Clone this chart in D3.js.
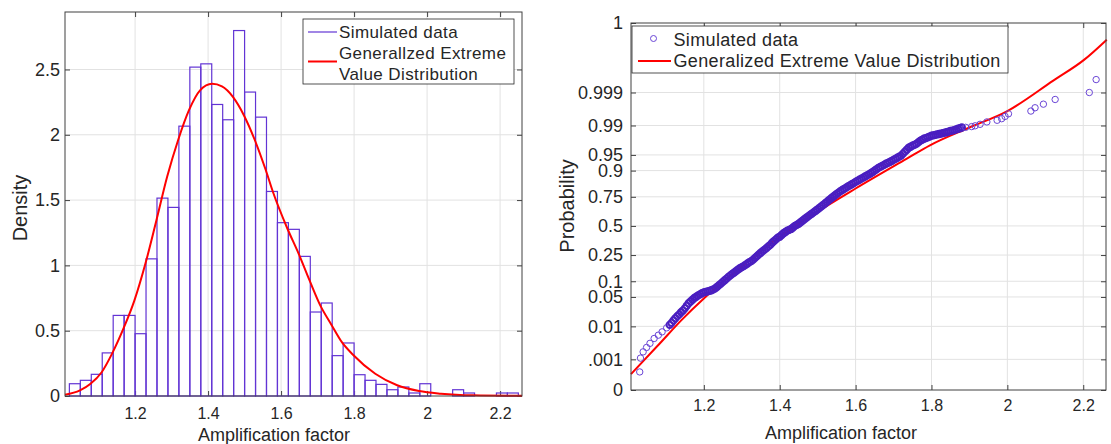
<!DOCTYPE html>
<html>
<head>
<meta charset="utf-8">
<script src="https://cdn.jsdelivr.net/npm/d3@7"></script>
<style>
body { margin: 0; background: #fff; }
svg text { font-family: Arial, "Liberation Sans", Helvetica, sans-serif; fill: #262626; }
</style>
</head>
<body>
<svg width="1111" height="444"></svg>
<script>
// ---- left panel: histogram + fitted pdf ----
const binEdges = [1.02, 1.05, 1.08, 1.11, 1.14, 1.17, 1.20, 1.23, 1.26, 1.29, 1.32, 1.35, 1.38, 1.41,
    1.44, 1.47, 1.50, 1.53, 1.56, 1.59, 1.62, 1.65, 1.68, 1.71, 1.74, 1.77, 1.80, 1.83, 1.86, 1.89,
    1.92, 1.95, 1.98, 2.01, 2.04, 2.07, 2.10, 2.13, 2.16, 2.19, 2.22, 2.25];
const histDensity = [0.094, 0.12, 0.166, 0.33, 0.617, 0.617, 0.477, 1.05, 1.515, 1.444, 2.066, 2.518,
    2.543, 2.232, 2.115, 2.798, 2.327, 2.135, 1.566, 1.327, 1.276, 1.069, 0.643, 0.712, 0.309, 0.406,
    0.163, 0.12, 0.089, 0.048, 0.069, 0.023, 0.094, 0, 0, 0.048, 0.023, 0, 0, 0.023, 0.023];
const gevPdfX = [1.008, 1.049, 1.078, 1.108, 1.138, 1.168, 1.198, 1.228, 1.258, 1.288, 1.318, 1.348,
    1.378, 1.411, 1.438, 1.468, 1.498, 1.528, 1.558, 1.578, 1.616, 1.648, 1.678, 1.708, 1.737, 1.767,
    1.797, 1.858, 1.918, 1.978, 2.038, 2.126, 2.26];
const gevPdfY = [0.01, 0.043, 0.094, 0.18, 0.33, 0.515, 0.73, 1.01, 1.34, 1.68, 1.96, 2.19,
    2.34, 2.39, 2.37, 2.29, 2.15, 1.96, 1.73, 1.56, 1.29, 1.09, 0.885, 0.69, 0.55, 0.41,
    0.316, 0.17, 0.082, 0.038, 0.018, 0.005, 0.001];
const xTicks = [1.2, 1.4, 1.6, 1.8, 2, 2.2];
const densityTicks = [0, 0.5, 1, 1.5, 2, 2.5];

// ---- right panel: probability plot ----
const simX = [1.031, 1.033, 1.040, 1.049, 1.058, 1.069, 1.080, 1.090, 1.102, 1.110, 1.115, 1.120,
    1.125, 1.130, 1.135, 1.140, 1.145, 1.150, 1.155, 1.160, 1.165, 1.170, 1.175, 1.180, 1.185, 1.190,
    1.195, 1.200, 1.205, 1.210, 1.215, 1.220, 1.225, 1.230, 1.235, 1.240, 1.245, 1.250, 1.255, 1.260,
    1.265, 1.270, 1.275, 1.280, 1.285, 1.290, 1.295, 1.300, 1.305, 1.310, 1.315, 1.320, 1.325, 1.330,
    1.335, 1.340, 1.345, 1.350, 1.355, 1.360, 1.365, 1.370, 1.375, 1.380, 1.385, 1.390, 1.395, 1.400,
    1.405, 1.410, 1.415,
    1.420, 1.425, 1.430, 1.435, 1.440, 1.445, 1.450, 1.455, 1.460, 1.465,
    1.470, 1.475, 1.480, 1.485, 1.490, 1.495, 1.500, 1.505, 1.510, 1.515,
    1.520, 1.525, 1.530, 1.535, 1.540, 1.545, 1.550, 1.555, 1.560, 1.565,
    1.570, 1.575, 1.580, 1.585, 1.590, 1.595, 1.600, 1.605, 1.610, 1.615,
    1.620, 1.625, 1.630, 1.635, 1.640, 1.645, 1.650, 1.655, 1.660, 1.665,
    1.670, 1.675, 1.680, 1.685, 1.690, 1.695, 1.700, 1.705, 1.710, 1.715,
    1.720, 1.725, 1.730, 1.735, 1.740, 1.745, 1.750, 1.755, 1.760, 1.765,
    1.770, 1.775, 1.780, 1.785, 1.790, 1.795, 1.800, 1.805, 1.810, 1.815,
    1.820, 1.825, 1.830, 1.835, 1.840, 1.845, 1.850, 1.855, 1.860, 1.865,
    1.870, 1.875, 1.880, 1.890,
    1.906, 1.915, 1.928, 1.946, 1.973, 1.985, 1.994, 2.003, 2.062, 2.073, 2.095, 2.126, 2.216, 2.234];
const simP = [0.00036, 0.0011, 0.00177, 0.00244, 0.00327, 0.00457, 0.0057, 0.00707, 0.00914, 0.011,
    0.0124, 0.0143, 0.0162, 0.0183, 0.0202, 0.0228, 0.025, 0.0281, 0.0322, 0.0367, 0.0401, 0.0436,
    0.0475, 0.0505, 0.0537, 0.0565, 0.0594, 0.0618, 0.0636, 0.0649, 0.0662, 0.0681, 0.0708, 0.0742,
    0.0793, 0.0853, 0.0909, 0.0977, 0.1044, 0.1112, 0.119, 0.1261, 0.1335, 0.1401, 0.148, 0.1562,
    0.1635, 0.1698, 0.1762, 0.1841, 0.1922, 0.2005, 0.2075, 0.2177, 0.2297, 0.242, 0.2546, 0.2676,
    0.2793, 0.2912, 0.3033, 0.3174, 0.33, 0.3483, 0.3632, 0.3783, 0.3936, 0.4013, 0.4168, 0.4325,
    0.4443,
    0.4562, 0.4641, 0.4721, 0.4860, 0.5000, 0.5100, 0.5199, 0.5339, 0.5478, 0.5616,
    0.5753, 0.5878, 0.6006, 0.6129, 0.6255, 0.6376, 0.6499, 0.6628, 0.6754, 0.6879,
    0.7002, 0.7130, 0.7257, 0.7373, 0.7486, 0.7596, 0.7703, 0.7800, 0.7896, 0.7973,
    0.8051, 0.8125, 0.8199, 0.8264, 0.8327, 0.8394, 0.8461, 0.8520, 0.8577, 0.8632,
    0.8686, 0.8739, 0.8790, 0.8840, 0.8888, 0.8944, 0.8997, 0.9052, 0.9107, 0.9142,
    0.9177, 0.9215, 0.9251, 0.9279, 0.9306, 0.9338, 0.9370, 0.9400, 0.9429, 0.9457,
    0.9484, 0.9530, 0.9573, 0.9612, 0.9649, 0.9667, 0.9686, 0.9699, 0.9713, 0.9735,
    0.9756, 0.9770, 0.9783, 0.9791, 0.9798, 0.9808, 0.9817, 0.9821, 0.9826, 0.9830,
    0.9834, 0.9838, 0.9842, 0.9846, 0.9850, 0.9856, 0.9861, 0.9864, 0.9868, 0.9873,
    0.9878, 0.9882, 0.9887, 0.9888,
    0.9893, 0.9898, 0.9907, 0.992, 0.9928, 0.9935, 0.9944, 0.9953, 0.9961, 0.9969, 0.9976,
    0.9983, 0.999, 0.99965];
const gevCdfX = [1.008, 1.08, 1.141, 1.2, 1.299, 1.4, 1.48, 1.6, 1.734, 1.796, 1.9, 2.0, 2.121, 2.202, 2.262];
const gevCdfP = [0.0003, 0.0029, 0.0146, 0.0465, 0.171, 0.40, 0.587, 0.807, 0.9398, 0.9691, 0.9887,
    0.9961, 0.99962, 0.99994, 0.999992];
// first and last are the axis limits, labelled 0 and 1
const probTicks = [0.0000723, 0.001, 0.01, 0.05, 0.1, 0.25, 0.5, 0.75, 0.9, 0.95, 0.99, 0.999, 0.9999987];
const probTickLabels = ["0", ".001", "0.01", "0.05", "0.1", "0.25", "0.5", "0.75", "0.9", "0.95", "0.99", "0.999", "1"];

const purple = "#6234d4";
const markerColor = "#6a45d6";
const crowdedColor = "#4a1ec0";
const red = "#ff0000";
const gridColor = "#e2e2e2";
const axisColor = "#404040";

// inverse normal cdf (Acklam) for the probability axis
function probit(p) {
    const a = [-3.969683028665376e+01, 2.209460984245205e+02, -2.759285104469687e+02, 1.383577518672690e+02, -3.066479806614716e+01, 2.506628277459239e+00];
    const b = [-5.447609879822406e+01, 1.615858368580409e+02, -1.556989798598866e+02, 6.680131188771972e+01, -1.328068155288572e+01];
    const c = [-7.784894002430293e-03, -3.223964580411365e-01, -2.400758277161838e+00, -2.549732539343734e+00, 4.374664141464968e+00, 2.938163982698783e+00];
    const d = [7.784695709041462e-03, 3.224671290700398e-01, 2.445134137142996e+00, 3.754408661907416e+00];
    const pl = 0.02425;
    let q, r;
    if (p < pl) {
        q = Math.sqrt(-2 * Math.log(p));
        return (((((c[0] * q + c[1]) * q + c[2]) * q + c[3]) * q + c[4]) * q + c[5]) / ((((d[0] * q + d[1]) * q + d[2]) * q + d[3]) * q + 1);
    }
    if (p > 1 - pl) {
        q = Math.sqrt(-2 * Math.log(1 - p));
        return -(((((c[0] * q + c[1]) * q + c[2]) * q + c[3]) * q + c[4]) * q + c[5]) / ((((d[0] * q + d[1]) * q + d[2]) * q + d[3]) * q + 1);
    }
    q = p - 0.5;
    r = q * q;
    return (((((a[0] * r + a[1]) * r + a[2]) * r + a[3]) * r + a[4]) * r + a[5]) * q / (((((b[0] * r + b[1]) * r + b[2]) * r + b[3]) * r + b[4]) * r + 1);
}

const svg = d3.select("svg");

// gridlines, inward ticks on all four sides, tick labels
function drawFrame(g, x, y, box, yTicks, yFormat, opts) {
    g.append("g").selectAll("line").data(xTicks).join("line")
        .attr("x1", d => x(d)).attr("x2", d => x(d))
        .attr("y1", box.top).attr("y2", box.bottom)
        .attr("stroke", gridColor).attr("stroke-width", 1);
    g.append("g").selectAll("line").data(opts.yGrid).join("line")
        .attr("x1", box.left).attr("x2", box.right)
        .attr("y1", d => y(d)).attr("y2", d => y(d))
        .attr("stroke", gridColor).attr("stroke-width", 1);

    const bottom = g.append("g").attr("transform", `translate(0,${box.bottom})`)
        .call(d3.axisBottom(x).tickValues(xTicks).tickSize(-5).tickSizeOuter(0).tickFormat(d3.format("")));
    bottom.selectAll("text").attr("y", opts.xLabelY).attr("dy", null)
        .style("font-size", "16px");
    const top = g.append("g").attr("transform", `translate(0,${box.top})`)
        .call(d3.axisTop(x).tickValues(xTicks).tickSize(-5).tickSizeOuter(0).tickFormat(""));
    const left = g.append("g").attr("transform", `translate(${box.left},0)`)
        .call(d3.axisLeft(y).tickValues(yTicks).tickSize(-5).tickSizeOuter(0).tickFormat(yFormat));
    left.selectAll("text").attr("x", -opts.yLabelGap).style("font-size", "18px");
    const right = g.append("g").attr("transform", `translate(${box.right},0)`)
        .call(d3.axisRight(y).tickValues(yTicks).tickSize(-5).tickSizeOuter(0).tickFormat(""));
    [bottom, top, left, right].forEach(a => {
        a.select(".domain").remove();
        a.selectAll(".tick line").attr("stroke", axisColor);
        a.selectAll("text").attr("font-family", null).style("fill", "#262626");
    });
}

function drawFrameBox(g, box) {
    g.append("rect")
        .attr("x", box.left).attr("y", box.top)
        .attr("width", box.right - box.left).attr("height", box.bottom - box.top)
        .attr("fill", "none").attr("stroke", axisColor).attr("stroke-width", 1);
}

// ===== left panel =====
const boxL = { left: 65, right: 522, top: 12, bottom: 396 };
const xL = d3.scaleLinear().domain([1.008, 2.26]).range([boxL.left, boxL.right]);
const yL = d3.scaleLinear().domain([0, 2.94]).range([boxL.bottom, boxL.top]);
const gL = svg.append("g");

drawFrame(gL, xL, yL, boxL, densityTicks, d3.format(""),
    { yGrid: densityTicks.slice(1), xLabelY: 23, yLabelGap: 5 });

gL.append("g").selectAll("rect")
    .data(histDensity)
    .join("rect")
    .attr("x", (d, i) => xL(binEdges[i]))
    .attr("width", (d, i) => xL(binEdges[i + 1]) - xL(binEdges[i]))
    .attr("y", d => yL(d))
    .attr("height", d => yL(0) - yL(d))
    .attr("fill", "none")
    .attr("stroke", purple)
    .attr("stroke-width", 1.2);

gL.append("path")
    .datum(gevPdfX.map((v, i) => [v, gevPdfY[i]]))
    .attr("d", d3.line().x(d => xL(d[0])).y(d => yL(d[1])).curve(d3.curveMonotoneX))
    .attr("fill", "none")
    .attr("stroke", red)
    .attr("stroke-width", 2);

drawFrameBox(gL, boxL);

// legend
const legL = gL.append("g");
legL.append("rect").attr("x", 303).attr("y", 19).attr("width", 211).attr("height", 65)
    .attr("fill", "#fff").attr("stroke", "#262626").attr("stroke-width", 0.8);
legL.append("line").attr("x1", 308).attr("x2", 337).attr("y1", 32).attr("y2", 32)
    .attr("stroke", purple).attr("stroke-width", 1.2);
legL.append("line").attr("x1", 308).attr("x2", 337).attr("y1", 61.5).attr("y2", 61.5)
    .attr("stroke", red).attr("stroke-width", 2);
legL.selectAll("text")
    .data([["Simulated data", 37.5], ["Generallzed Extreme", 58.8], ["Value Distribution", 80]])
    .join("text")
    .attr("x", 339).attr("y", d => d[1])
    .style("font-size", "17px").style("letter-spacing", "0.4px")
    .text(d => d[0]);

gL.append("text").attr("x", 274).attr("y", 441).attr("text-anchor", "middle")
    .style("font-size", "18px").text("Amplification factor");
gL.append("text").attr("transform", "translate(20,208) rotate(-90)")
    .attr("text-anchor", "middle").attr("dominant-baseline", "central")
    .style("font-size", "20px").text("Density");

// ===== right panel =====
const boxR = { left: 631, right: 1106, top: 23, bottom: 390 };
const xR = d3.scaleLinear().domain([1.008, 2.26]).range([boxR.left, boxR.right]);
const zR = d3.scaleLinear()
    .domain([probit(probTicks[0]), probit(probTicks[probTicks.length - 1])])
    .range([boxR.bottom, boxR.top]);
const yR = p => zR(probit(p));
yR.copy = () => yR;
yR.range = () => zR.range();
yR.domain = () => [probTicks[0], probTicks[probTicks.length - 1]];
const gR = svg.append("g");

drawFrame(gR, xR, yR, boxR, probTicks, (d, i) => probTickLabels[i],
    { yGrid: probTicks.slice(1, -1), xLabelY: 21, yLabelGap: 8 });

gR.append("path")
    .datum(gevCdfX.map((v, i) => [v, gevCdfP[i]]))
    .attr("d", d3.line().x(d => xR(d[0])).y(d => yR(d[1])).curve(d3.curveMonotoneX))
    .attr("fill", "none")
    .attr("stroke", red)
    .attr("stroke-width", 2);

// markers: where they crowd together the rings merge into a solid band
const simPts = simX.map((v, i) => ({ x: xR(v), y: yR(simP[i]) }));
simPts.forEach((p, i) => {
    const near = [simPts[i - 1], simPts[i + 1]].filter(Boolean)
        .map(q => Math.hypot(q.x - p.x, q.y - p.y));
    p.crowded = d3.min(near) < 3.2;
});
gR.append("g").selectAll("circle")
    .data(simPts)
    .join("circle")
    .attr("cx", d => d.x)
    .attr("cy", d => d.y)
    .attr("r", 3.2)
    .attr("fill", "none")
    .attr("stroke", d => d.crowded ? crowdedColor : markerColor)
    .attr("stroke-width", d => d.crowded ? 1.9 : 1);

drawFrameBox(gR, boxR);

const legR = gR.append("g");
legR.append("rect").attr("x", 632).attr("y", 26).attr("width", 376).attr("height", 47)
    .attr("fill", "#fff").attr("stroke", "#262626").attr("stroke-width", 0.8);
legR.append("circle").attr("cx", 653.5).attr("cy", 38.5).attr("r", 3)
    .attr("fill", "none").attr("stroke", markerColor).attr("stroke-width", 1);
legR.append("line").attr("x1", 638).attr("x2", 671).attr("y1", 61).attr("y2", 61)
    .attr("stroke", red).attr("stroke-width", 2);
legR.selectAll("text")
    .data([["Simulated data", 45.5], ["Generalized Extreme Value Distribution", 67]])
    .join("text")
    .attr("x", 673.5).attr("y", d => d[1])
    .style("font-size", "18px").style("letter-spacing", "0.35px")
    .text(d => d[0]);

gR.append("text").attr("x", 841).attr("y", 439).attr("text-anchor", "middle")
    .style("font-size", "18px").text("Amplification factor");
gR.append("text").attr("transform", "translate(567,206) rotate(-90)")
    .attr("text-anchor", "middle").attr("dominant-baseline", "central")
    .style("font-size", "20px").text("Probability");
</script>
</body>
</html>
